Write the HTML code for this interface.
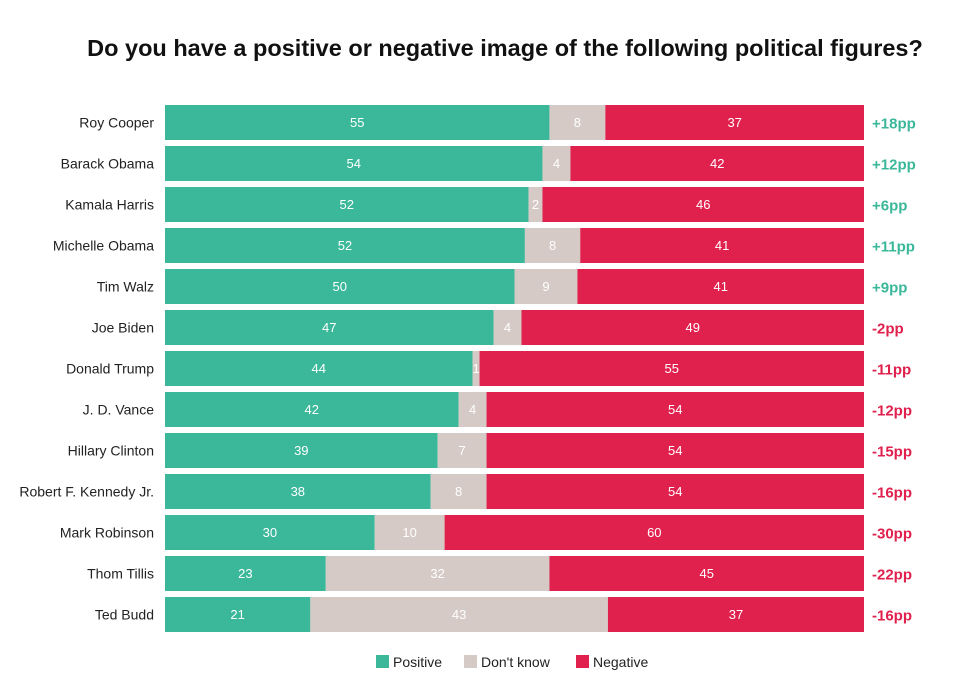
<!DOCTYPE html>
<html><head><meta charset="utf-8"><style>
body{margin:0;background:#fff;width:970px;height:676px;overflow:hidden;font-family:"Liberation Sans",sans-serif}
</style></head><body>
<svg id="chart" width="970" height="676" xmlns="http://www.w3.org/2000/svg">
<text x="505" y="56" text-anchor="middle" font-size="23.5" font-weight="bold" fill="#111">Do you have a positive or negative image of the following political figures?</text>
<g id="bars"></g>
<g font-size="14" fill="#222">
<rect x="376" y="655" width="13" height="13" fill="#3bb79a"/>
<text x="393" y="667">Positive</text>
<rect x="464" y="655" width="13" height="13" fill="#d5cac5"/>
<text x="481" y="667">Don't know</text>
<rect x="576" y="655" width="13" height="13" fill="#e0204d"/>
<text x="593" y="667">Negative</text>
</g>
</svg>
<script>
const names=["Roy Cooper","Barack Obama","Kamala Harris","Michelle Obama","Tim Walz","Joe Biden","Donald Trump","J. D. Vance","Hillary Clinton","Robert F. Kennedy Jr.","Mark Robinson","Thom Tillis","Ted Budd"];
const positive=[55,54,52,52,50,47,44,42,39,38,30,23,21];
const dontKnow=[8,4,2,8,9,4,1,4,7,8,10,32,43];
const negative=[37,42,46,41,41,49,55,54,54,54,60,45,37];
const netLabels=["+18pp","+12pp","+6pp","+11pp","+9pp","-2pp","-11pp","-12pp","-15pp","-16pp","-30pp","-22pp","-16pp"];
const NS="http://www.w3.org/2000/svg";
const g=document.getElementById('bars');
const x0=165,W=699,y0=105,step=41,bh=35;
function xs(v,t){return v/t*W;}
function yRow(i){return y0+i*step;}
function mk(tag,attrs){const e=document.createElementNS(NS,tag);for(const k in attrs)e.setAttribute(k,attrs[k]);return e;}
names.forEach((n,i)=>{
  const y=yRow(i),tot=positive[i]+dontKnow[i]+negative[i];
  const lab=mk('text',{x:154,y:y+bh/2+5,'text-anchor':'end','font-size':14,fill:'#222'});
  
  
  lab.textContent=n;g.appendChild(lab);
  let x=x0;
  [[positive[i],'#3bb79a','bar-positive'],[dontKnow[i],'#d5cac5','bar-dont-know'],[negative[i],'#e0204d','bar-negative']].forEach(([v,c,nm])=>{
    const w=xs(v,tot);
    const r=mk('rect',{x:x,y:y,width:w,height:bh,fill:c});
    
    
    g.appendChild(r);
    const t=mk('text',{x:x+w/2,y:y+bh/2+4.5,'text-anchor':'middle','font-size':13,fill:'#fff'});
    
    
    t.textContent=v;g.appendChild(t);
    x+=w;
  });
  const net=positive[i]-negative[i];
  const nt=mk('text',{x:872,y:y+bh/2+6,'font-size':15,'font-weight':'bold',fill:net>=0?'#3bb79a':'#e0204d'});
  
  
  nt.textContent=netLabels[i];g.appendChild(nt);
});
</script>
</body></html>
